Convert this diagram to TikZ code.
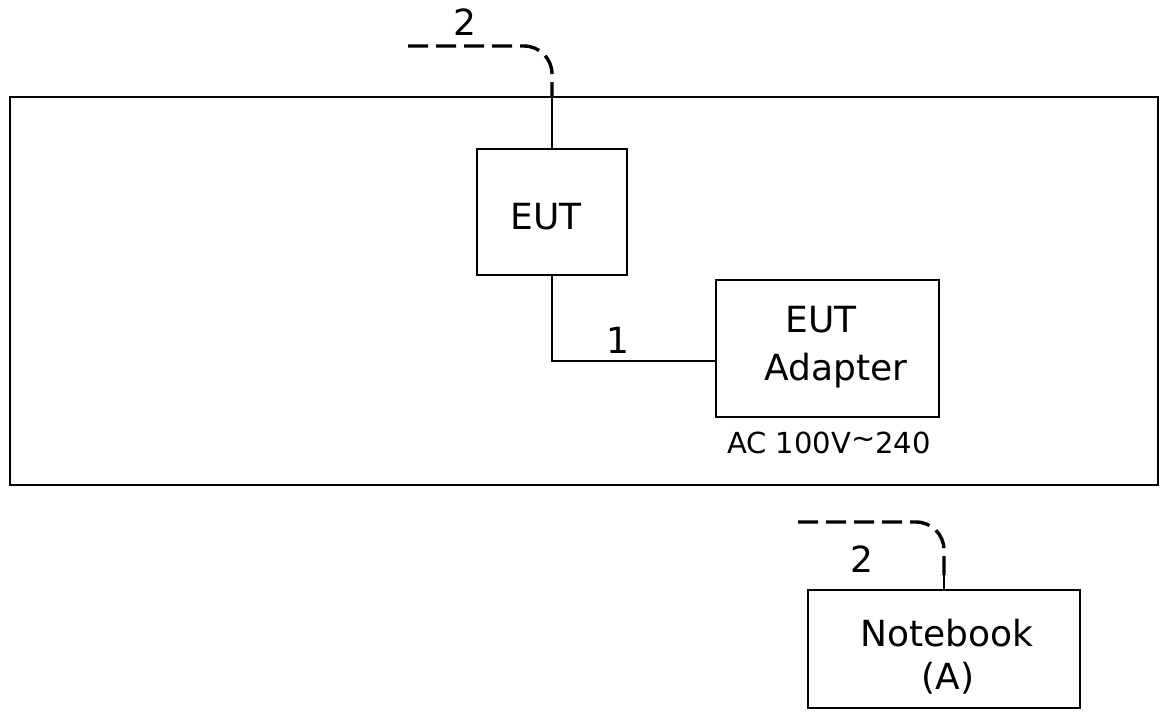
\documentclass[tikz,border=0pt]{standalone}
\usepackage{fontspec}
\setmainfont{DejaVu Sans}
\usepackage{tikz}
\usetikzlibrary{positioning}

\begin{document}
\begin{tikzpicture}[
  x=0.5pt, y=-0.5pt,
  unit/.style={rectangle, draw, line width=1pt, inner sep=0pt},
  lbl/.style={font=\fontsize{18}{21}\selectfont, inner sep=0pt},
  note/.style={font=\fontsize{14.5}{17}\selectfont, inner sep=0pt},
  cable/.style={draw, line width=1pt},
  signal/.style={draw, line width=1.7pt, dash pattern=on 10pt off 4pt, rounded corners=14pt}
]
  \useasboundingbox (0,0) rectangle (1161,718);

  \node[unit, minimum width=574pt, minimum height=194pt] (frame) at (584,291) {};
  \node[unit, minimum width=75pt, minimum height=63pt] (eut) at (552,212) {};
  \node[unit, minimum width=111.5pt, minimum height=68.5pt] (adapter) at (827.5,348.5) {};
  \node[unit, minimum width=136pt, minimum height=59pt] (notebook) at (944,649) {};

  \node[lbl] (euttext) at (546,217) {EUT};
  \node[lbl] (adtext1) at (821,320) {EUT};
  \node[lbl] (adtext2) at (836,371) {Adapter};
  \node[note] (mains) at (829,443) {AC 100V\raisebox{0.35ex}{\textasciitilde}240};
  \node[lbl] (nbtext1) at (947,633) {Notebook};
  \node[lbl] (nbtext2) at (948,678) {(A)};

  % cable 1: EUT to adapter
  \path[cable] (eut.south) |- ([yshift=-6pt]adapter.west);
  \node[lbl] (c1) at (618,340) {1};

  % cable 2: EUT out of the room
  \coordinate (entry) at (eut.north |- frame.north);
  \coordinate (lead2a) at (408,46);
  \path[signal] (lead2a) -| (entry);
  \path[cable] (entry) -- (eut.north);
  \node[lbl] (c2a) at (465,22) {2};

  % cable 2: notebook end
  \coordinate (nbport) at (944,575);
  \coordinate (lead2b) at (798,522);
  \path[signal] (lead2b) -| (nbport);
  \path[cable] (nbport) -- (notebook.north);
  \node[lbl] (c2b) at (862,559) {2};
\end{tikzpicture}
\end{document}
